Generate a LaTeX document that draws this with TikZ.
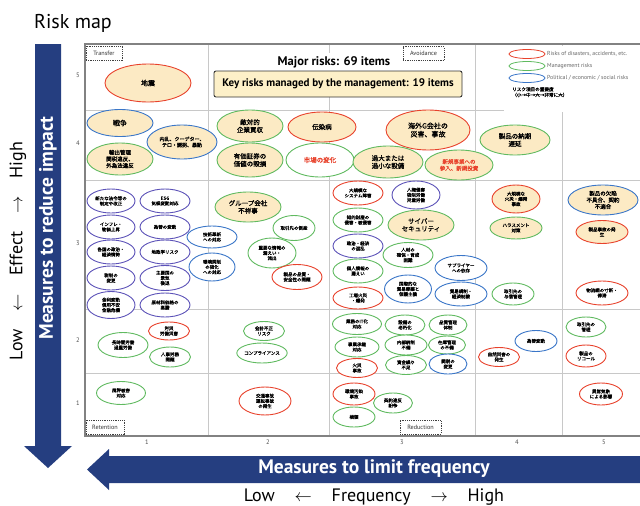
\documentclass[tikz,border=0pt]{standalone}
\usepackage{fontspec}
\setmainfont{PT Sans}
\newfontfamily\jp[FakeBold=1.2]{Noto Sans CJK JP}
\usetikzlibrary{shapes.geometric}
\definecolor{navy}{RGB}{37,62,128}
\definecolor{rkred}{RGB}{232,66,44}
\definecolor{rkgreen}{RGB}{96,186,96}
\definecolor{rkblue}{RGB}{58,118,200}
\definecolor{rkpurple}{RGB}{92,82,184}
\definecolor{cream}{RGB}{252,234,196}
\definecolor{keybox}{RGB}{253,240,200}
\definecolor{gridgray}{RGB}{200,200,200}
\definecolor{framegray}{RGB}{130,130,130}
\begin{document}
\begin{tikzpicture}[x=1pt,y=-1pt,
  rk/.style={ellipse, draw, line width=0.9pt, inner sep=0pt, align=center, fill=white,
             text=black, font=\jp\fontsize{4.5}{5.2}\selectfont},
  rd/.style={draw=rkred}, gn/.style={draw=rkgreen},
  bl/.style={draw=rkblue}, pu/.style={draw=rkpurple},
  key/.style={fill=cream},
  sz/.style 2 args={minimum width=#1pt, minimum height=#2pt},
  mid/.style={font=\jp\fontsize{5.5}{6.6}\selectfont},
  large/.style={font=\jp\fontsize{6.5}{7.6}\selectfont},
  corner/.style={draw=black!75, dash pattern=on 1.2pt off 1pt, fill=white, inner sep=0pt,
                 line width=0.7pt, minimum height=14pt, text=black!80,
                 font=\fontsize{6.2}{7}\selectfont},
  axisnum/.style={font=\fontsize{6.5}{7}\selectfont, text=black!70},
  legtext/.style={anchor=west, inner sep=0pt, text=black!60, font=\fontsize{5.8}{6.5}\selectfont},
  legell/.style={ellipse, draw, line width=0.8pt, minimum width=36pt, minimum height=9pt, inner sep=0pt},
  armtext/.style={text=white, font=\bfseries\fontsize{19.5}{20}\selectfont},
  axtext/.style={font=\fontsize{18}{19}\selectfont}
]
\path[use as bounding box] (0,0) rectangle (640,506);

% title
\node[anchor=west, inner sep=0pt, font=\fontsize{20}{22}\selectfont] (title) at (34,23) {Risk map};

% grid of the map
\draw[gridgray, line width=1pt]
  (85,110) -- (645,110) (85,180) -- (645,180) (85,309) -- (645,309) (85,373) -- (645,373)
  (208,44) -- (208,436) (329,44) -- (329,436) (475,44) -- (475,436) (562,44) -- (562,436);
\draw[framegray, line width=1.3pt] (85,44) rectangle (648,436);

% axis numbers
\foreach \v/\yy in {5/75,4/143,3/243,2/340,1/403}
  \node[axisnum] (r\v) at (78,\yy) {\v};
\foreach \v/\xx in {1/147,2/268,3/402,4/517,5/604}
  \node[axisnum] (c\v) at (\xx,442) {\v};

% corner boxes
\node[corner, minimum width=36pt] (transfer) at (104,53) {Transfer};
\node[corner, minimum width=41pt] (avoid) at (423.5,53.5) {Avoidance};
\node[corner, minimum width=38pt] (retain) at (105,427) {Retention};
\node[corner, minimum width=41pt] (reduce) at (420.5,427) {Reduction};

% headline boxes
\node[fill=white, inner xsep=6pt, inner ysep=3pt, font=\bfseries\fontsize{12.5}{14}\selectfont] (major) at (334,62) {Major risks: 69 items};
\node[draw=black!80, fill=keybox, rounded corners=2pt, line width=0.9pt, minimum width=248pt, minimum height=26pt,
      font=\bfseries\fontsize{11}{12}\selectfont] (keyrisks) at (338,84) {Key risks managed by the management: 19 items};

% legend
\fill[white] (504,46) rectangle (645,112);
\node[legell, draw=rkred] (lg1) at (527,54) {};
\node[legell, draw=rkgreen] (lg2) at (527,66) {};
\node[legell, draw=rkblue] (lg3) at (527,78) {};
\node[legtext] (lt1) at (547,54) {Risks of disasters, accidents, etc.};
\node[legtext] (lt2) at (547,66) {Management risks};
\node[legtext] (lt3) at (547,78) {Political / economic / social risks};
\node[anchor=north west, inner sep=0pt, align=left, font=\jp\fontsize{4.6}{5.6}\selectfont] (lgjp) at (512,87)
  {リスク項目の重要度\\（小→中→大→非常に大）};

% ---- row 5
\node[rk,rd,key,sz={86}{38},font=\jp\fontsize{7}{8}\selectfont] (e1) at (148,83) {地震};
% ---- row 4
\node[rk,bl,key,sz={66}{27},font=\jp\fontsize{7}{8}\selectfont] (e2) at (120,123) {戦争};
\node[rk,bl,key,sz={70}{34},font=\jp\fontsize{5}{6}\selectfont] (e3) at (182,142) {内乱、クーデター、\\テロ・誘拐、暴動};
\node[rk,gn,key,sz={66}{32},mid] (e4) at (120,159) {輸出管理\\関税違反、\\外為法違反};
\node[rk,gn,key,sz={66}{32},large] (e5) at (250,126) {敵対的\\企業買収};
\node[rk,gn,key,sz={66}{34},large] (e6) at (250,160) {有価証券の\\価値の毀損};
\node[rk,rd,key,sz={68}{30},large] (e7) at (322,127) {伝染病};
\node[rk,gn,sz={68}{34},large,text=rkred] (e8) at (320,160) {市場の変化};
\node[rk,rd,key,sz={84}{40},font=\jp\fontsize{7}{8.4}\selectfont] (e9) at (428,130) {海外G会社の\\災害、事故};
\node[rk,gn,key,sz={70}{32},large] (e10) at (388,162) {過大または\\過小な設備};
\node[rk,gn,key,sz={68}{30},mid,text=rkred] (e11) at (459,165) {新規事業への\\参入、新規投資};
\node[rk,gn,key,sz={70}{30},large] (e12) at (515,140) {製品の納期\\遅延};
% ---- row 3, column 1
\node[rk,pu,sz={48}{24}] (e13) at (111,201) {新たな法令等の\\制定や改正};
\node[rk,pu,sz={50}{24}] (e14) at (165,201) {ESG\\気候変動対応};
\node[rk,pu,sz={48}{24}] (e15) at (111,227) {インフレ・\\物価上昇};
\node[rk,pu,sz={50}{24}] (e16) at (165,227) {為替の変動};
\node[rk,pu,sz={48}{24}] (e17) at (111,252) {各国の政治・\\経済情勢};
\node[rk,pu,sz={50}{24}] (e18) at (165,252) {地政学リスク};
\node[rk,pu,sz={48}{24}] (e19) at (111,278) {税制の\\変更};
\node[rk,pu,sz={50}{25}] (e20) at (165,278) {主要国の\\景気\\後退};
\node[rk,pu,sz={48}{27}] (e21) at (111,305) {金利変動\\信用不安\\金融危機};
\node[rk,pu,sz={50}{24}] (e22) at (165,305) {原材料価格の\\高騰};
\node[rk,bl,sz={50}{22}] (e23) at (212,237) {技術革新\\への対応};
\node[rk,bl,sz={46}{28}] (e24) at (212,267) {環境規制\\の強化\\への対応};
% ---- row 3, column 2
\node[rk,gn,key,sz={66}{30},large] (e25) at (248,207) {グループ会社\\不祥事};
\node[rk,gn,sz={42}{25}] (e26) at (294,228) {取引先の倒産};
\node[rk,gn,sz={48}{30}] (e27) at (272,253) {重要な情報の\\漏えい・\\流出};
\node[rk,rd,sz={50}{25}] (e28) at (297,277) {製品の品質・\\安全性の問題};
% ---- row 3, column 3
\node[rk,rd,sz={50}{24}] (e29) at (358,193) {大規模な\\システム障害};
\node[rk,pu,sz={48}{28}] (e30) at (416,195) {人権侵害\\強制労働\\児童労働};
\node[rk,gn,sz={50}{24}] (e31) at (358,220) {知的財産の\\侵害・被侵害};
\node[rk,gn,key,sz={66}{30},large] (e32) at (421,225) {サイバー\\セキュリティ};
\node[rk,pu,sz={50}{24}] (e33) at (358,246) {政治・経済\\の混乱};
\node[rk,gn,sz={50}{25}] (e34) at (408,255) {人材の\\確保・育成\\困難};
\node[rk,gn,sz={50}{24}] (e35) at (358,271) {個人情報の\\漏えい};
\node[rk,bl,sz={52}{25}] (e36) at (461,268) {サプライヤー\\への依存};
\node[rk,bl,sz={47}{28}] (e37) at (408,289) {国際的な\\貿易摩擦と\\保護主義};
\node[rk,rd,sz={50}{22}] (e38) at (358,298) {工場火災\\・爆発};
\node[rk,bl,sz={52}{24}] (e39) at (461,294) {貿易規制・\\経済制裁};
\node[rk,gn,sz={42}{22}] (e40) at (513,294) {取引先の\\与信管理};
% ---- row 3, columns 4 and 5
\node[rk,rd,key,sz={48}{28}] (e41) at (516,199) {大規模な\\火災・爆発\\事故};
\node[rk,gn,key,sz={52}{22}] (e42) at (516,228) {ハラスメント\\対策};
\node[rk,bl,key,sz={70}{30},mid] (e43) at (603,200) {製品の欠陥\\不具合、契約\\不適合};
\node[rk,rd,key,sz={52}{23}] (e44) at (602,232) {製品事故の発\\生};
\node[rk,rd,sz={52}{24}] (e45) at (602,293) {物流網の寸断・\\停滞};
% ---- row 2
\node[rk,rd,sz={41}{18}] (e46) at (169,331) {労災\\労働災害};
\node[rk,gn,sz={50}{25}] (e47) at (123,345) {長時間労働\\過重労働};
\node[rk,gn,sz={41}{20}] (e48) at (170,357) {人事労務\\問題};
\node[rk,gn,sz={41}{19}] (e49) at (264,331) {会計不正\\リスク};
\node[rk,gn,sz={41}{20}] (e50) at (262,353) {コンプライアンス};
\node[rk,gn,sz={49}{21}] (e51) at (357,324) {業務のIT化\\対応};
\node[rk,gn,sz={40}{20}] (e52) at (405,325) {設備の\\老朽化};
\node[rk,gn,sz={38}{20}] (e53) at (448,325) {品質管理\\体制};
\node[rk,gn,sz={44}{20}] (e54) at (357,347) {事業承継\\対応};
\node[rk,gn,sz={42}{20}] (e55) at (406,345) {内部統制\\不備};
\node[rk,gn,sz={37}{18}] (e56) at (447,345) {在庫管理\\の不備};
\node[rk,rd,sz={41}{19}] (e57) at (357,368) {火災\\事故};
\node[rk,gn,sz={41}{19}] (e58) at (406,365) {資金繰り\\不足};
\node[rk,bl,sz={38}{20}] (e59) at (448,364) {関税の\\変更};
\node[rk,bl,sz={42}{21}] (e60) at (536,341) {為替変動};
\node[rk,rd,sz={41}{19}] (e61) at (499,357) {自然災害の\\発生};
\node[rk,gn,sz={40}{20}] (e62) at (586,327) {取引先の\\管理};
\node[rk,rd,sz={40}{22}] (e63) at (586,356) {製品の\\リコール};
% ---- row 1
\node[rk,gn,sz={49}{23}] (e64) at (121,393) {風評被害\\対応};
\node[rk,rd,sz={52}{28}] (e65) at (265,401) {交通事故\\運転事故\\の発生};
\node[rk,rd,sz={42}{22}] (e66) at (354,394) {環境汚染\\事故};
\node[rk,gn,sz={39}{20}] (e67) at (393,403) {契約違反\\紛争};
\node[rk,gn,sz={42}{20}] (e68) at (354,417) {横領};
\node[rk,rd,sz={43}{22}] (e69) at (601,394) {異常気象\\による影響};

% vertical arrow: measures to reduce impact
\fill[navy] (35,44) -- (61,44) -- (61,446) -- (72,446) -- (48,468) -- (24,446) -- (35,446) -- cycle;
\node[rotate=90, armtext] (impact) at (48,228) {Measures to reduce impact};
\node[rotate=90, axtext] (effect) at (18,251)
  {Low\hspace{1em}$\leftarrow$\hspace{1em}Effect\hspace{1em}$\rightarrow$\hspace{1em}High};

% horizontal arrow: measures to limit frequency
\fill[navy] (648,456) -- (109,456) -- (109,449) -- (87,469.5) -- (109,490) -- (109,483) -- (648,483) -- cycle;
\node[armtext] (freqm) at (374,469) {Measures to limit frequency};
\node[axtext] (freq) at (374,497)
  {Low\hspace{1.1em}$\leftarrow$\hspace{1.1em}Frequency\hspace{1.1em}$\rightarrow$\hspace{1.1em}High};
\end{tikzpicture}
\end{document}
